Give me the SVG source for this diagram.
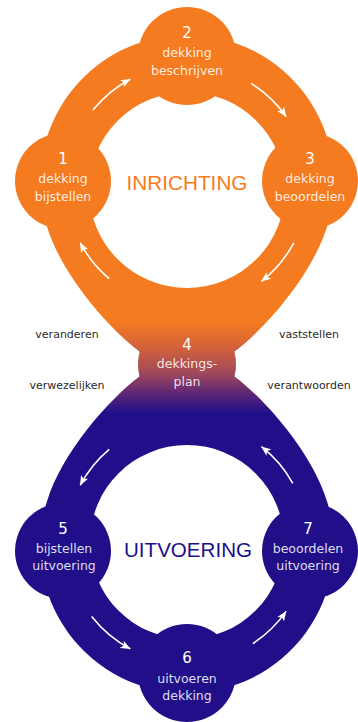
<svg xmlns="http://www.w3.org/2000/svg" width="358" height="722" viewBox="0 0 358 722">
  <defs>
    <linearGradient id="fade" gradientUnits="userSpaceOnUse" x1="0" y1="0" x2="0" y2="722">
      <stop offset="0" stop-color="#F47B20"/>
      <stop offset="0.445" stop-color="#F47B20"/>
      <stop offset="0.48" stop-color="#D4623A"/>
      <stop offset="0.515" stop-color="#A44A58"/>
      <stop offset="0.545" stop-color="#5E2676"/>
      <stop offset="0.572" stop-color="#210F8A"/>
      <stop offset="1" stop-color="#210F8A"/>
    </linearGradient>
    <marker id="head" markerUnits="userSpaceOnUse" markerWidth="11" markerHeight="9" refX="9.5" refY="4.5" orient="auto">
      <path d="M0,0.5 L10,4.5 L0,8.5 L2.5,4.5 Z" fill="#FFFFFF"/>
    </marker>
  </defs>
  <style>
    .fill { fill: url(#fade); }
    .num { font-family: "DejaVu Sans", "Liberation Sans", sans-serif; font-size: 15px; fill: #FFFFFF; text-anchor: middle; }
    .lbl { font-family: "DejaVu Sans", "Liberation Sans", sans-serif; font-size: 12.5px; fill: #FFFFFF; fill-opacity: 0.87; text-anchor: middle; }
    .side { font-family: "DejaVu Sans", "Liberation Sans", sans-serif; font-size: 11px; fill: #2A2A2A; text-anchor: middle; }
    .title { font-family: "Liberation Sans", Arial, sans-serif; font-size: 21px; text-anchor: middle; }
    .arrow { fill: none; stroke: #FFFFFF; stroke-width: 1.6; marker-end: url(#head); }
  </style>

  <g id="rings">
    <path class="fill" fill-rule="evenodd" d="M47.1,227 A147,147 0 1 1 326.9,227 C312,275 266,328 234,352 L234,376 C266,400 312,453 326.9,501 A147,147 0 1 1 47.1,501 C62,453 108,400 140,376 L140,352 C108,328 62,275 47.1,227 Z M89,190 A98,98 0 1 0 285,190 A98,98 0 1 0 89,190 Z M90,542 A97,97 0 1 0 284,542 A97,97 0 1 0 90,542 Z"/>
  </g>

  <g id="node1">
    <circle class="fill" cx="63" cy="181" r="48"/>
    <text class="num" x="63" y="164">1</text>
    <text class="lbl" x="63" y="183">dekking</text>
    <text class="lbl" x="63" y="201">bijstellen</text>
  </g>
  <g id="node2">
    <circle class="fill" cx="187" cy="56" r="49"/>
    <text class="num" x="187" y="38">2</text>
    <text class="lbl" x="187" y="57">dekking</text>
    <text class="lbl" x="187" y="75">beschrijven</text>
  </g>
  <g id="node3">
    <circle class="fill" cx="310" cy="181" r="48"/>
    <text class="num" x="310" y="164">3</text>
    <text class="lbl" x="310" y="183">dekking</text>
    <text class="lbl" x="310" y="201">beoordelen</text>
  </g>
  <g id="node4">
    <circle class="fill" cx="187" cy="364" r="49"/>
    <text class="num" x="187" y="350">4</text>
    <text class="lbl" x="187" y="368">dekkings-</text>
    <text class="lbl" x="187" y="386">plan</text>
  </g>
  <g id="node5">
    <circle class="fill" cx="63" cy="551" r="48"/>
    <text class="num" x="63" y="534">5</text>
    <text class="lbl" x="64" y="553">bijstellen</text>
    <text class="lbl" x="64" y="570">uitvoering</text>
  </g>
  <g id="node6">
    <circle class="fill" cx="187" cy="673" r="49"/>
    <text class="num" x="187" y="663">6</text>
    <text class="lbl" x="187" y="683">uitvoeren</text>
    <text class="lbl" x="187" y="700">dekking</text>
  </g>
  <g id="node7">
    <circle class="fill" cx="310" cy="551" r="48"/>
    <text class="num" x="308" y="534">7</text>
    <text class="lbl" x="308" y="553">beoordelen</text>
    <text class="lbl" x="308" y="570">uitvoering</text>
  </g>

  <g id="titles">
    <text class="title" x="187" y="190" fill="#F47B20" textLength="121" lengthAdjust="spacingAndGlyphs">INRICHTING</text>
    <text class="title" x="188" y="557" fill="#210F8A" textLength="128" lengthAdjust="spacingAndGlyphs">UITVOERING</text>
  </g>

  <g id="side-labels">
    <text class="side" x="67" y="338">veranderen</text>
    <text class="side" x="309" y="338">vaststellen</text>
    <text class="side" x="67" y="389">verwezelijken</text>
    <text class="side" x="309" y="389">verantwoorden</text>
  </g>

  <g id="connectors">
    <path class="arrow" d="M93,109.9 A121,121 0 0 1 130.2,79.2"/>
    <path class="arrow" d="M251.1,83.4 A121,121 0 0 1 286.1,116.6"/>
    <path class="arrow" d="M293.8,242.8 A121,121 0 0 1 261.5,281.3"/>
    <path class="arrow" d="M109.2,278.7 A121,121 0 0 1 80.2,242.8"/>
    <path class="arrow" d="M109.2,449.3 A121,121 0 0 0 80.2,485.2"/>
    <path class="arrow" d="M91.7,616.5 A121,121 0 0 0 130.2,648.8"/>
    <path class="arrow" d="M252.9,643.5 A121,121 0 0 0 286.1,611.4"/>
    <path class="arrow" d="M292.8,483.3 A121,121 0 0 0 261.5,446.7"/>
  </g>
</svg>
